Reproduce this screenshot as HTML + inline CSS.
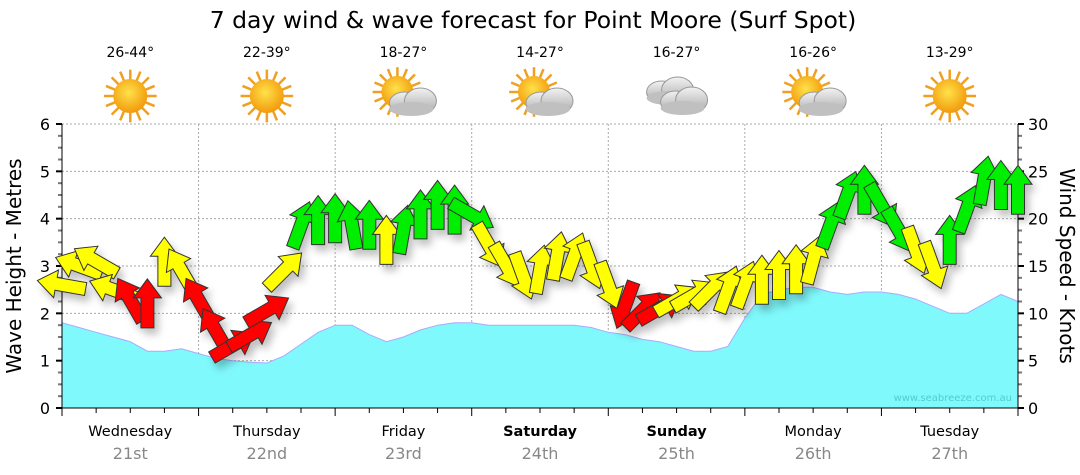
<!DOCTYPE html>
<html><head><meta charset="utf-8"><style>
body{margin:0;background:#fff;}
svg{display:block;font-family:"DejaVu Sans","Liberation Sans",sans-serif;}
</style></head><body>
<svg id="chart" width="1080" height="475" viewBox="0 0 1080 475">
<defs>
<radialGradient id="sunG" cx="45%" cy="40%" r="60%"><stop offset="0" stop-color="#ffe24a"/><stop offset="1" stop-color="#f29a0c"/></radialGradient>
<linearGradient id="cloudG" x1="0" y1="0" x2="0" y2="1"><stop offset="0" stop-color="#f2f2f2"/><stop offset="1" stop-color="#a8a8a8"/></linearGradient>
<filter id="sh" x="-50%" y="-50%" width="200%" height="200%"><feGaussianBlur in="SourceAlpha" stdDeviation="4"/><feOffset dx="4" dy="6"/><feComponentTransfer><feFuncA type="linear" slope="0.25"/></feComponentTransfer><feMerge><feMergeNode/><feMergeNode in="SourceGraphic"/></feMerge></filter>
</defs>
<text x="533" y="28" font-size="23.5" text-anchor="middle" fill="#000">7 day wind &amp; wave forecast for Point Moore (Surf Spot)</text>
<g id="grid"></g>
<g id="wave"></g>
<g id="axes"></g>
<g id="wind" filter="url(#sh)"></g>
<g id="icons"></g>
<text x="1012" y="401" font-size="10" text-anchor="end" fill="#5cc">www.seabreeze.com.au</text>
<text transform="translate(21,266) rotate(-90)" font-size="20" text-anchor="middle">Wave Height - Metres</text>
<text transform="translate(1060,266) rotate(90)" font-size="20" text-anchor="middle">Wind Speed - Knots</text>
</svg>
<script>
const days=["Wednesday","Thursday","Friday","Saturday","Sunday","Monday","Tuesday"];
const dates=["21st","22nd","23rd","24th","25th","26th","27th"];
const boldDays=[false,false,false,true,true,false,false];
const temps=["26-44°","22-39°","18-27°","14-27°","16-27°","16-26°","13-29°"];
const icons=["sun","sun","suncloud","suncloud","cloud","suncloud","sun"];
const waveTicks=[0,1,2,3,4,5,6];
const windTicks=[0,5,10,15,20,25,30];
const wave=[1.8,1.7,1.6,1.5,1.4,1.2,1.2,1.25,1.15,1.05,1.0,0.97,0.95,1.1,1.35,1.6,1.75,1.75,1.55,1.4,1.5,1.65,1.75,1.8,1.8,1.75,1.75,1.75,1.75,1.75,1.75,1.7,1.6,1.55,1.45,1.4,1.3,1.2,1.2,1.3,1.9,2.4,2.5,2.55,2.55,2.45,2.4,2.45,2.45,2.4,2.3,2.15,2.0,2.0,2.2,2.4,2.25];
const windSpeed=[13,15,15.5,12.5,11.4,11,15.4,14.5,11.4,8.2,6.6,7.7,10.3,14.5,19.3,19.8,20,19.3,19.3,17.7,18.8,20.4,21.4,20.9,20.4,17.2,15.1,14,14.6,16,16,15.1,13,10.9,10.3,10.5,11.4,11.9,12.5,12.5,13,13.5,14,14.6,15.6,19.3,22.5,23,21.4,18.8,16.7,15.1,17.7,21,24,23.5,23];
const windDir=[280,290,300,290,330,0,0,330,330,330,60,60,60,45,20,0,0,350,0,0,10,0,0,0,120,150,150,160,10,10,20,160,160,200,45,60,60,60,45,20,20,0,0,0,15,20,20,0,150,150,160,160,0,20,10,0,0];
const windCol=["y","y","y","y","r","r","y","y","r","r","r","r","r","y","g","g","g","g","g","y","g","g","g","g","g","y","y","y","y","y","y","y","y","r","r","r","y","y","y","y","y","y","y","y","y","g","g","g","g","g","y","y","g","g","g","g","g"];

const NS="http://www.w3.org/2000/svg";
const X0=62,X1=1018,Y0=408,Y1=124;
const xs=i=>X0+(X1-X0)*i/(wave.length-1);
const yW=v=>Y0-(Y0-Y1)*v/6;
const yK=v=>Y0-(Y0-Y1)*v/30;
const dayW=(X1-X0)/7;
function mk(tag,attrs,parent){const e=document.createElementNS(NS,tag);for(const k in attrs)e.setAttribute(k,attrs[k]);parent.appendChild(e);return e;}
const grid=document.getElementById('grid'),axes=document.getElementById('axes');
mk('rect',{x:X0,y:Y1,width:X1-X0,height:Y0-Y1,fill:'#fff'},grid);
waveTicks.forEach(t=>{if(t>0){const l=mk('line',{x1:X0,x2:X1,y1:yW(t),y2:yW(t),stroke:'#aaa','stroke-dasharray':'2,2'},grid);}
 const tx=mk('text',{x:50,y:yW(t)+6,'font-size':16,'text-anchor':'end'},axes);tx.textContent=t;
 });
windTicks.forEach(t=>{const tx=mk('text',{x:1028,y:yK(t)+6,'font-size':16},axes);tx.textContent=t;
 });
for(let d=1;d<7;d++){const x=X0+d*dayW;const l=mk('line',{x1:x,x2:x,y1:Y1,y2:Y0,stroke:'#aaa','stroke-dasharray':'2,2'},grid);
 }
for(let k=0;k<=24;k++){const y=Y0-(Y0-Y1)*k/24;const w=k%4==0?6:4;
 mk('line',{x1:X0-w,x2:X0,y1:y,y2:y,stroke:k%4==0?'#000':'#777','stroke-width':2},axes);
 mk('line',{x1:X1,x2:X1+w,y1:y,y2:y,stroke:k%4==0?'#000':'#777','stroke-width':2},axes);}
mk('line',{x1:X0,x2:X0,y1:Y1,y2:Y0,stroke:'#000'},axes);
mk('line',{x1:X1,x2:X1,y1:Y1,y2:Y0,stroke:'#000'},axes);
mk('line',{x1:X0,x2:X1,y1:Y0,y2:Y0,stroke:'#000'},axes);
for(let k=0;k<=56;k++){const x=X0+k*dayW/8;if(k%2)continue;const h=k%8==0?8:5;mk('line',{x1:x,x2:x,y1:Y0,y2:Y0+h,stroke:'#000'},axes);}
days.forEach((d,i)=>{const cx=X0+dayW*(i+0.5);
 const t=mk('text',{x:cx,y:436,'font-size':14.5,'text-anchor':'middle','font-weight':boldDays[i]?'bold':'normal'},axes);t.textContent=d;
 
 const t2=mk('text',{x:cx,y:459,'font-size':16,'text-anchor':'middle',fill:'#888'},axes);t2.textContent=dates[i];
 });
let p='M'+X0+','+Y0;wave.forEach((v,i)=>p+=' L'+xs(i).toFixed(1)+','+yW(v).toFixed(1));p+=' L'+X1+','+Y0+' Z';
const wa=mk('path',{d:p,fill:'#7ff9fc',stroke:'#aaf',"stroke-width":1},document.getElementById('wave'));

const cols={r:'#f00',y:'#ff0',g:'#0e0'};
const wg=document.getElementById('wind');
const arrow="0,-25 14,-6 6.5,-6 6.5,24 -6.5,24 -6.5,-6 -14,-6";
windSpeed.forEach((s,i)=>{const a=mk('polygon',{points:arrow,fill:cols[windCol[i]],stroke:'#333','stroke-width':1,
 transform:`translate(${xs(i).toFixed(1)},${yK(s).toFixed(1)}) rotate(${windDir[i]})`},wg);
 });
const ig=document.getElementById('icons');
function sun(cx,cy,r,g){for(let k=0;k<16;k++){const an=k*Math.PI/8;mk('line',{x1:cx+Math.cos(an)*r*0.8,y1:cy+Math.sin(an)*r*0.8,x2:cx+Math.cos(an)*r*1.55,y2:cy+Math.sin(an)*r*1.55,stroke:'#f0a020','stroke-width':2.5},g);}
 mk('circle',{cx,cy,r,fill:'url(#sunG)'},g);}
function cloud(cx,cy,g){mk('ellipse',{cx:cx-7,cy:cy+2,rx:15,ry:11,fill:'url(#cloudG)',stroke:'#999'},g);
 mk('ellipse',{cx:cx+9,cy:cy,rx:16,ry:13,fill:'url(#cloudG)',stroke:'#999'},g);
 mk('ellipse',{cx:cx,cy:cy+8,rx:22,ry:7,fill:'#c0c0c0'},g);}
icons.forEach((ic,i)=>{const cx=X0+dayW*(i+0.5);
 const t=mk('text',{x:cx,y:57,'font-size':14,'text-anchor':'middle'},ig);t.textContent=temps[i];
 
 const g=mk('g',{},ig);
 if(ic==='sun')sun(cx,96,17,g);
 else if(ic==='suncloud'){sun(cx-6,92,16,g);cloud(cx+8,101,g);}
 else{cloud(cx-8,90,g);cloud(cx+6,100,g);}});
</script>
</body></html>
